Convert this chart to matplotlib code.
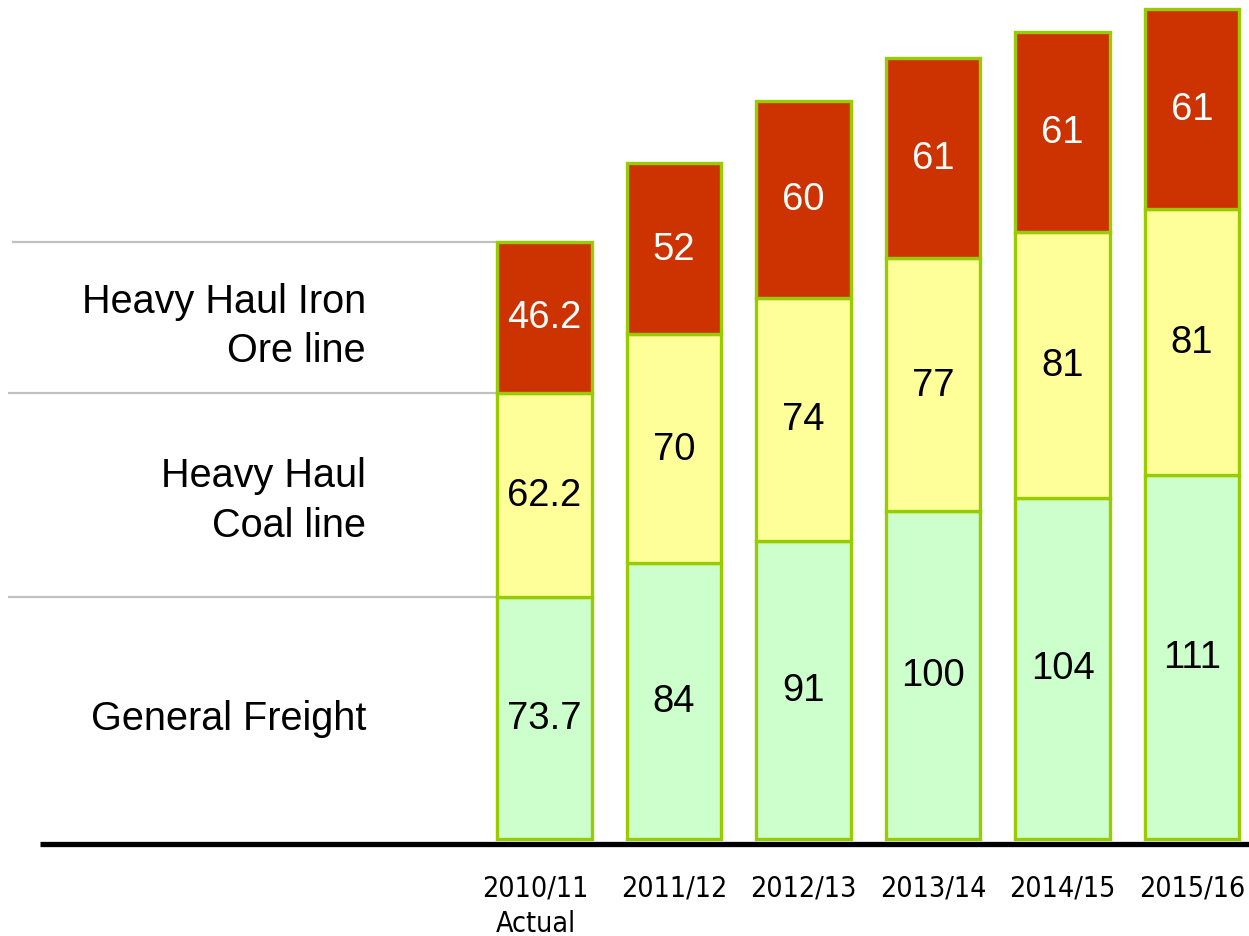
import matplotlib.pyplot as plt
from matplotlib.font_manager import FontProperties

years = ['2010/11\nActual', '2011/12', '2012/13', '2013/14', '2014/15', '2015/16']
general_freight = [73.7, 84, 91, 100, 104, 111]
coal_line = [62.2, 70, 74, 77, 81, 81]
iron_ore_line = [46.2, 52, 60, 61, 61, 61]
value_labels_gf = ['73.7', '84', '91', '100', '104', '111']
value_labels_coal = ['62.2', '70', '74', '77', '81', '81']
value_labels_ore = ['46.2', '52', '60', '61', '61', '61']
segment_names = ['General Freight', 'Heavy Haul\nCoal line', 'Heavy Haul Iron\nOre line']

GREEN = '#CCFFCC'
YELLOW = '#FFFF99'
RED = '#CC3300'
EDGE = '#99CC00'

W, H = 1249, 937
fig = plt.figure(figsize=(W / 100, H / 100), dpi=100)
ax = fig.add_axes([0, 0, 1, 1])

# pixel geometry of the original slide
px_per_unit = 3.28
base_px = 840
x0_px, step_px = 544.5, 129.5
ax.set_xlim(-x0_px / step_px, (W - x0_px) / step_px)
ax.set_ylim(-(H - base_px) / px_per_unit, base_px / px_per_unit)
ax.axis('off')

xs = range(len(years))
bw = 0.73
bottom2 = [a + b for a, b in zip(general_freight, coal_line)]
ax.bar(xs, general_freight, bw, color=GREEN, edgecolor=EDGE, linewidth=2.4, zorder=3)
ax.bar(xs, coal_line, bw, bottom=general_freight, color=YELLOW, edgecolor=EDGE, linewidth=2.4, zorder=3)
ax.bar(xs, iron_ore_line, bw, bottom=bottom2, color=RED, edgecolor=EDGE, linewidth=2.4, zorder=3)

lab_font = dict(family='Liberation Sans', fontsize=27.5, ha='center', va='center', zorder=4)
for i in xs:
    ax.text(i, general_freight[i] / 2, value_labels_gf[i], color='black', **lab_font)
    ax.text(i, general_freight[i] + coal_line[i] / 2, value_labels_coal[i], color='black', **lab_font)
    ax.text(i, bottom2[i] + iron_ore_line[i] / 2, value_labels_ore[i], color='white', **lab_font)

# grey separator lines on the left, aligned with first bar segments
ytr = ax.get_yaxis_transform()
tops = [general_freight[0], bottom2[0], bottom2[0] + iron_ore_line[0]]
ax.hlines(tops[0], 8 / W, 497 / W, color='#C0C0C0', lw=1.6, transform=ytr, zorder=1)
ax.hlines(tops[1], 8 / W, 497 / W, color='#C0C0C0', lw=1.6, transform=ytr, zorder=1)
ax.hlines(tops[2], 12 / W, 577 / W, color='#C0C0C0', lw=1.6, transform=ytr, zorder=1)

# segment names (sit a little below segment middles on the slide)
label_x = 366 / W
mids = [general_freight[0] / 2, general_freight[0] + coal_line[0] / 2 - 1.5,
        bottom2[0] + iron_ore_line[0] / 2 - 2.5]
for name, y in zip(segment_names, mids):
    ax.text(label_x, y, name, transform=ytr, ha='right', va='center',
            family='Liberation Sans', fontsize=28.5, linespacing=1.38)

# baseline
ax.hlines(-1.6, 40 / W, 1.0, color='black', lw=3.8, transform=ytr, zorder=5)

# category labels
tick_fp = FontProperties(family='DejaVu Sans', stretch='condensed', size=20.5)
for i, yr in enumerate(years):
    ax.text(i - 0.07 if i == 0 else i, -(875 - base_px) / px_per_unit, yr, ha='center', va='top',
            fontproperties=tick_fp, linespacing=1.3)

fig.savefig('out.png', dpi=100)
